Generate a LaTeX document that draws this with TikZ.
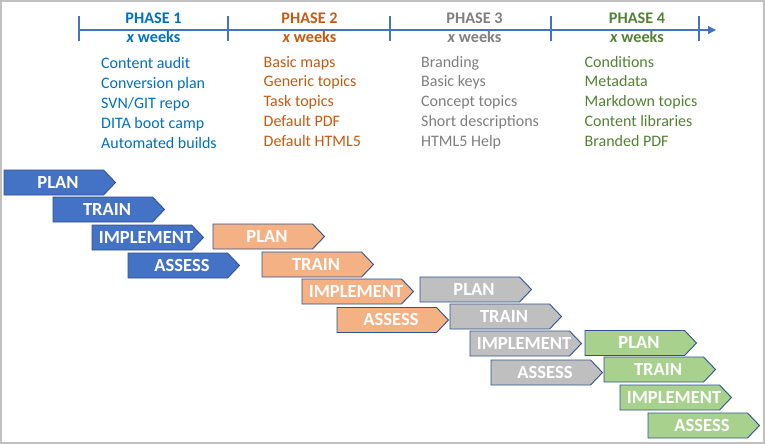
\documentclass[tikz,border=0pt]{standalone}
\usepackage{fontspec}
\setmainfont{Carlito}
\usetikzlibrary{arrows.meta}
\definecolor{pblue}{HTML}{4472C4}
\definecolor{tblue}{HTML}{0070C0}
\definecolor{porange}{HTML}{F4B183}
\definecolor{torange}{HTML}{C55A11}
\definecolor{pgray}{HTML}{BFBFBF}
\definecolor{tgray}{HTML}{7F7F7F}
\definecolor{pgreen}{HTML}{A9D18E}
\definecolor{tgreen}{HTML}{548235}
\definecolor{edgecol}{HTML}{2F528F}
\definecolor{framecol}{HTML}{C0C0C0}
\tikzset{
  chevbox/.style={draw=edgecol, line width=0.9pt, line join=miter},
  chevtext/.style={text=white, font=\fontsize{18.5}{18.5}\selectfont\bfseries, inner sep=0pt},
  phasehead/.style={font=\fontsize{16.2}{16.2}\selectfont\bfseries, inner sep=0pt, anchor=base},
  listitem/.style={font=\fontsize{16}{16}\selectfont, inner sep=0pt, anchor=base west},
  tl/.style={draw=pblue, line width=1.1pt},
}
\newcommand\chevron[5]{%
  \draw[chevbox, fill=#4] (#2,#3) -- ++(99.5,0) -- ++(12,12.5) -- ++(-12,12.5) -- ++(-99.5,0) -- cycle;
  \node[chevtext, anchor=base] (#1) at (#2+54,#3+18) {#5};
}
\begin{document}
\begin{tikzpicture}[x=1pt,y=-1pt]
\useasboundingbox (0,0) rectangle (765,444);
\fill[white] (0,0) rectangle (765,444);
\draw[framecol, line width=2.4pt] (1.2,1.2) rectangle (763.8,442.8);

% timeline
\coordinate (t0) at (79,30);
\coordinate (tend) at (716,30);
\draw[tl, -{Triangle[length=8pt,width=8pt]}] (t0) -- (tend);
\foreach \x/\n in {79/a,228/b,390/c,551/d,699/e}{
  \coordinate (tk\n top) at (\x,16);
  \coordinate (tk\n bot) at (\x,41);
  \draw[tl] (tk\n top) -- (tk\n bot);
}

% headers
\node[phasehead, text=tblue] (h1) at (153.5,24) {PHASE 1};
\node[phasehead, text=tblue] (w1) at (153.5,42.5) {\textit{x} weeks};
\node[phasehead, text=torange] (h2) at (309.5,24) {PHASE 2};
\node[phasehead, text=torange] (w2) at (309.5,42) {\textit{x} weeks};
\node[phasehead, text=tgray] (h3) at (474.5,24) {PHASE 3};
\node[phasehead, text=tgray] (w3) at (474.5,42) {\textit{x} weeks};
\node[phasehead, text=tgreen] (h4) at (637,24) {PHASE 4};
\node[phasehead, text=tgreen] (w4) at (637,42) {\textit{x} weeks};

% lists
\foreach \t [count=\i from 0] in {Content audit,Conversion plan,SVN/GIT repo,DITA boot camp,Automated builds}{
  \node[listitem, text=tblue] (la\i) at (101,69+19.75*\i) {\t};
}
\foreach \t [count=\i from 0] in {Basic maps,Generic topics,Task topics,Default PDF,Default HTML5}{
  \node[listitem, text=torange] (lb\i) at (263.5,67+19.75*\i) {\t};
}
\foreach \t [count=\i from 0] in {Branding,Basic keys,Concept topics,Short descriptions,HTML5 Help}{
  \node[listitem, text=tgray] (lc\i) at (421,67+19.75*\i) {\t};
}
\foreach \t [count=\i from 0] in {Conditions,Metadata,Markdown topics,Content libraries,Branded PDF}{
  \node[listitem, text=tgreen] (ld\i) at (584.5,67+19.75*\i) {\t};
}

% chevrons
\chevron{bplan}{4}{170}{pblue}{PLAN}
\chevron{btrain}{53}{197}{pblue}{TRAIN}
\chevron{bimpl}{92}{225}{pblue}{IMPLEMENT}
\chevron{bassess}{128}{253}{pblue}{ASSESS}

\chevron{oplan}{213}{224}{porange}{PLAN}
\chevron{otrain}{262}{252}{porange}{TRAIN}
\chevron{oimpl}{302}{279}{porange}{IMPLEMENT}
\chevron{oassess}{337}{307.5}{porange}{ASSESS}

\chevron{gplan}{420}{277}{pgray}{PLAN}
\chevron{gtrain}{450}{304}{pgray}{TRAIN}
\chevron{gimpl}{470}{331}{pgray}{IMPLEMENT}
\chevron{gassess}{491}{360}{pgray}{ASSESS}

\chevron{rplan}{585}{330.5}{pgreen}{PLAN}
\chevron{rtrain}{604}{357}{pgreen}{TRAIN}
\chevron{rimpl}{620}{385}{pgreen}{IMPLEMENT}
\chevron{rassess}{648}{413}{pgreen}{ASSESS}
\end{tikzpicture}
\end{document}
